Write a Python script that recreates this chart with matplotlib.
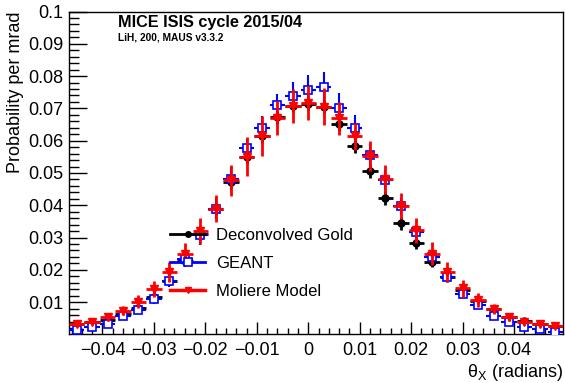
import matplotlib
matplotlib.use('Agg')
import matplotlib.pyplot as plt
from matplotlib.lines import Line2D
from matplotlib.ticker import MultipleLocator, FuncFormatter

plt.rcParams['font.family'] = ['Liberation Sans', 'DejaVu Sans']
plt.rcParams['mathtext.fontset'] = 'custom'
plt.rcParams['mathtext.rm'] = 'Liberation Sans'
plt.rcParams['mathtext.it'] = 'Liberation Sans'

# bin centres (radians), bin width 3 mrad
theta = [-0.045, -0.042, -0.039, -0.036, -0.033, -0.030, -0.027, -0.024,
         -0.021, -0.018, -0.015, -0.012, -0.009, -0.006, -0.003, 0.000,
         0.003, 0.006, 0.009, 0.012, 0.015, 0.018, 0.021, 0.024,
         0.027, 0.030, 0.033, 0.036, 0.039, 0.042, 0.045, 0.048]
bin_width = 0.003

gold = [0.0031, 0.0039, 0.0045, 0.0063, 0.0082, 0.0117, 0.0167, 0.0229,
        0.0310, 0.0388, 0.0472, 0.0548, 0.0614, 0.0672, 0.0708, 0.0715,
        0.0705, 0.0651, 0.0583, 0.0505, 0.0423, 0.0345, 0.0283, 0.0225,
        0.0177, 0.0138, 0.0105, 0.0079, 0.0055, 0.0043, 0.0033, 0.0027]
gold_err = [0.0005, 0.0006, 0.0007, 0.0008, 0.0009, 0.0010, 0.0012, 0.0014,
            0.0016, 0.0018, 0.0020, 0.0020, 0.0020, 0.0020, 0.0020, 0.0020,
            0.0020, 0.0020, 0.0020, 0.0022, 0.0022, 0.0020, 0.0018, 0.0016,
            0.0014, 0.0012, 0.0010, 0.0009, 0.0008, 0.0007, 0.0006, 0.0005]

geant = [0.0015, 0.0022, 0.0033, 0.0057, 0.0077, 0.0110, 0.0167, 0.0234,
         0.0307, 0.0390, 0.0482, 0.0576, 0.0638, 0.0712, 0.0739, 0.0757,
         0.0767, 0.0702, 0.0638, 0.0555, 0.0478, 0.0397, 0.0317, 0.0239,
         0.0177, 0.0125, 0.0091, 0.0058, 0.0040, 0.0022, 0.0018, 0.0008]
geant_err = [0.0005, 0.0006, 0.0008, 0.0010, 0.0013, 0.0016, 0.0020, 0.0025,
             0.0030, 0.0033, 0.0036, 0.0030, 0.0038, 0.0034, 0.0043, 0.0047,
             0.0047, 0.0047, 0.0041, 0.0035, 0.0030, 0.0026, 0.0022, 0.0018,
             0.0015, 0.0012, 0.0010, 0.0008, 0.0006, 0.0005, 0.0005, 0.0004]

moliere = [0.0031, 0.0040, 0.0053, 0.0074, 0.0102, 0.0142, 0.0193, 0.0250,
           0.0320, 0.0390, 0.0477, 0.0550, 0.0614, 0.0670, 0.0708, 0.0716,
           0.0705, 0.0669, 0.0614, 0.0552, 0.0480, 0.0397, 0.0322, 0.0250,
           0.0193, 0.0143, 0.0107, 0.0079, 0.0053, 0.0040, 0.0031, 0.0026]
moliere_err = [0.0008, 0.0009, 0.0011, 0.0014, 0.0020, 0.0025, 0.0032, 0.0033,
               0.0040, 0.0042, 0.0047, 0.0060, 0.0062, 0.0052, 0.0052, 0.0053,
               0.0057, 0.0050, 0.0042, 0.0047, 0.0044, 0.0040, 0.0038, 0.0036,
               0.0030, 0.0026, 0.0022, 0.0016, 0.0012, 0.0010, 0.0008, 0.0007]

fig = plt.figure(figsize=(5.65, 3.83), dpi=100)
ax = fig.add_axes([69 / 565, 1 - 333.5 / 383, 494 / 565, 322 / 383])

xe = bin_width / 2
ax.errorbar(theta, gold, yerr=gold_err, xerr=xe, fmt='o', color='black',
            ms=5, lw=2, capsize=0, zorder=3)
ax.errorbar(theta, geant, yerr=geant_err, xerr=xe, fmt='s', color='#0000ff',
            mfc='white', mec='#0000ff', mew=1.2, ms=6, lw=1.5, capsize=0, zorder=4)
ax.errorbar(theta, moliere, yerr=moliere_err, xerr=xe, fmt='v', color='#ff0000',
            ms=5.5, lw=2, capsize=0, zorder=5)

ax.set_xlim(-0.0465, 0.0495)
ax.set_ylim(0.0003, 0.1)

ax.xaxis.set_major_locator(MultipleLocator(0.01))
ax.xaxis.set_minor_locator(MultipleLocator(0.002))
ax.yaxis.set_major_locator(MultipleLocator(0.01))
ax.yaxis.set_minor_locator(MultipleLocator(0.002))


def fmt(v, pos):
    v = round(v, 6)
    if v == 0:
        return '0'
    return ('%g' % v).replace('-', '\u2212')


ax.xaxis.set_major_formatter(FuncFormatter(fmt))
ax.yaxis.set_major_formatter(FuncFormatter(fmt))
ax.tick_params(axis='both', which='both', direction='in', top=False, right=False,
               labelsize=13, width=1)
ax.tick_params(axis='y', which='major', length=13, pad=4)
ax.tick_params(axis='y', which='minor', length=7)
ax.tick_params(axis='x', which='major', length=9, pad=6)
ax.tick_params(axis='x', which='minor', length=4.5)
for s in ax.spines.values():
    s.set_linewidth(1)

ax.set_xlabel(r'$\mathrm{\theta_X}$ (radians)', fontsize=13, loc='right', labelpad=2)
ax.set_ylabel('Probability per mrad', fontsize=13, loc='top', labelpad=3)

fig.text(118 / 565, 1 - 27 / 383, 'MICE ISIS cycle 2015/04', fontsize=11.7,
         fontweight='bold', va='baseline')
fig.text(118 / 565, 1 - 41 / 383, 'LiH, 200, MAUS v3.3.2', fontsize=7.3,
         fontweight='bold', va='baseline')

handles = [
    Line2D([], [], color='black', lw=2, marker='o', ms=4),
    Line2D([], [], color='#0000ff', lw=2, marker='s', ms=5.5, mfc='white', mew=1.2),
    Line2D([], [], color='#ff0000', lw=2.5, marker='v', ms=5),
]
labels = ['Deconvolved Gold', 'GEANT', 'Moliere Model']
leg = ax.legend(handles, labels, loc='upper left', frameon=False, fontsize=12,
                bbox_to_anchor=(170 / 565, 1 - 228 / 383), bbox_transform=fig.transFigure,
                handlelength=2.1, handletextpad=0.65, labelspacing=0.78,
                borderaxespad=0, borderpad=0)
leg.set_zorder(10)

fig.savefig('out.png', dpi=100)
